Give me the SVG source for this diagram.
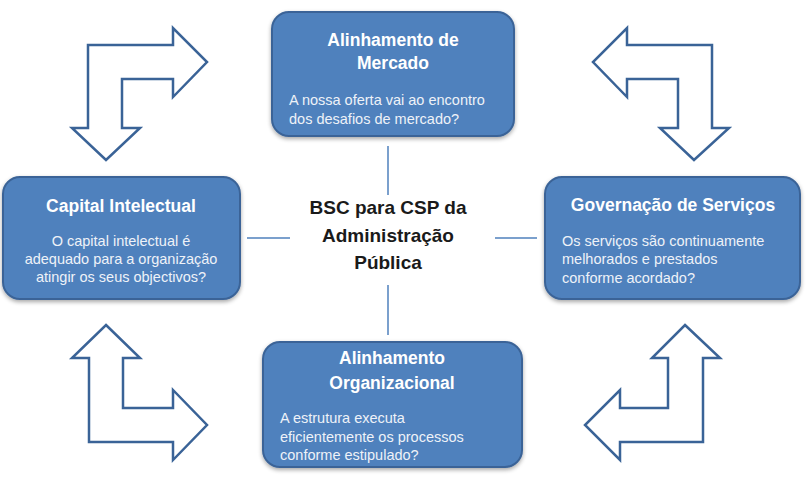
<svg xmlns="http://www.w3.org/2000/svg" width="807" height="484" viewBox="0 0 807 484">
<defs>
<style>
.box{fill:#4F81BD;stroke:#3A6397;stroke-width:2}
.ttl{font-family:"Liberation Sans",Arial,sans-serif;font-weight:bold;font-size:17.5px;fill:#FFFFFF}
.body{font-family:"Liberation Sans",Arial,sans-serif;font-size:14.5px;fill:#EEF2F8}
.ctr{font-family:"Liberation Sans",Arial,sans-serif;font-weight:bold;font-size:19px;fill:#1A1A1A}
.conn{stroke:#4F81BD;stroke-width:1.5;fill:none}
.arr{fill:#FFFFFF;stroke:#3A6397;stroke-width:2.5;stroke-linejoin:miter}
</style>
<filter id="sh" x="-10%" y="-10%" width="120%" height="130%">
<feGaussianBlur in="SourceAlpha" stdDeviation="2"/>
<feOffset dx="0" dy="2" result="b"/>
<feComponentTransfer><feFuncA type="linear" slope="0.35"/></feComponentTransfer>
<feMerge><feMergeNode/><feMergeNode in="SourceGraphic"/></feMerge>
</filter>
</defs>
<rect width="807" height="484" fill="#FFFFFF"/>

<g id="connectors">
<line class="conn" x1="388" y1="146" x2="388" y2="195"/>
<line class="conn" x1="388" y1="285" x2="388" y2="335"/>
<line class="conn" x1="247" y1="238" x2="290" y2="238"/>
<line class="conn" x1="495" y1="238" x2="537" y2="238"/>
</g>

<g id="arrow-top-left">
<polygon class="arr" points="88,45 173,45 173,28 207,62 173,97 173,79 122,79 122,128 140,128 106,160 72,128 88,128"/>
</g>
<g id="arrow-top-right">
<polygon class="arr" points="712,45 627,45 627,28 593,62 627,97 627,79 678,79 678,128 660,128 694,160 729,128 712,128"/>
</g>
<g id="arrow-bottom-left">
<polygon class="arr" points="106,325 140,358 123,358 123,408 173,408 173,390 207,425 173,460 173,442 89,442 89,358 72,358"/>
</g>
<g id="arrow-bottom-right">
<polygon class="arr" points="685,325 720,358 703,358 703,442 620,442 620,460 585,425 620,390 620,408 668,408 668,358 652,358"/>
</g>

<g id="node-center">
<text class="ctr" x="388" y="214" text-anchor="middle">BSC para CSP da</text>
<text class="ctr" x="388" y="242" text-anchor="middle">Administração</text>
<text class="ctr" x="388" y="269" text-anchor="middle">Pública</text>
</g>

<g id="node-mercado">
<rect class="box" x="272" y="12" width="242" height="124" rx="17" filter="url(#sh)"/>
<text class="ttl" x="393" y="46" text-anchor="middle">Alinhamento de</text>
<text class="ttl" x="393" y="69" text-anchor="middle">Mercado</text>
<text class="body" x="289" y="105">A nossa oferta vai ao encontro</text>
<text class="body" x="289" y="124">dos desafios de mercado?</text>
</g>

<g id="node-capital">
<rect class="box" x="3" y="177" width="237" height="122" rx="17" filter="url(#sh)"/>
<text class="ttl" x="121" y="212" text-anchor="middle">Capital Intelectual</text>
<text class="body" x="121" y="246" text-anchor="middle">O capital intelectual é</text>
<text class="body" x="121" y="264" text-anchor="middle">adequado para a organização</text>
<text class="body" x="121" y="282" text-anchor="middle">atingir os seus objectivos?</text>
</g>

<g id="node-governacao">
<rect class="box" x="545" y="177" width="255" height="122" rx="17" filter="url(#sh)"/>
<text class="ttl" x="673" y="211" text-anchor="middle">Governação de Serviços</text>
<text class="body" x="562" y="246">Os serviços são continuamente</text>
<text class="body" x="562" y="264">melhorados e prestados</text>
<text class="body" x="562" y="283">conforme acordado?</text>
</g>

<g id="node-organizacional">
<rect class="box" x="263" y="342" width="259" height="125" rx="17" filter="url(#sh)"/>
<text class="ttl" x="392" y="364" text-anchor="middle">Alinhamento</text>
<text class="ttl" x="392" y="389" text-anchor="middle">Organizacional</text>
<text class="body" x="280" y="423">A estrutura executa</text>
<text class="body" x="280" y="442">eficientemente os processos</text>
<text class="body" x="280" y="460">conforme estipulado?</text>
</g>
</svg>
